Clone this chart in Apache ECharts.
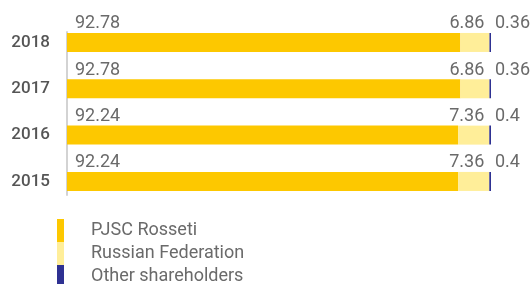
<!DOCTYPE html>
<html><head><meta charset="utf-8">
<script src="https://cdn.jsdelivr.net/npm/echarts@6/dist/echarts.min.js"></script>
<style>html,body{margin:0;padding:0;background:#fff}#c{width:530px;height:284px}</style>
</head><body><div id="c"></div>
<script>
const years = ['2015', '2016', '2017', '2018'];
const rosseti = [92.24, 92.24, 92.78, 92.78];
const federation = [7.36, 7.36, 6.86, 6.86];
const others = [0.4, 0.4, 0.36, 0.36];
const seriesNames = ['PJSC Rosseti', 'Russian Federation', 'Other shareholders'];
const colors = ['#FDC800', '#FFEE99', '#2E3192'];

const font = 'Roboto';
const labelBase = { show: true, color: '#6a6a6a', fontSize: 18, fontFamily: font, verticalAlign: 'middle', formatter: p => String(p.value) };

const chart = echarts.init(document.getElementById('c'));
chart.setOption({
  animation: false,
  grid: [
    { left: 67, right: 39, top: 19.3, bottom: 79.4 },
    { left: 67, right: 39, top: 32, bottom: 89 }
  ],
  legend: {
    orient: 'vertical', left: 57, top: 219, height: 90, itemWidth: 7, itemHeight: 23, itemGap: 0,
    icon: 'rect', selectedMode: false, padding: 0,
    textStyle: { color: '#6a6a6a', fontSize: 18, fontFamily: font, padding: [0, 0, 0, 22] },
    data: seriesNames
  },
  xAxis: [
    { type: 'value', min: 0, max: 100, show: false, gridIndex: 0 },
    { type: 'value', min: 0, max: 100, show: false, gridIndex: 1 }
  ],
  yAxis: [
    { type: 'category', data: years, gridIndex: 0, axisLine: { show: false }, axisTick: { show: false },
      axisLabel: { color: '#555', fontSize: 17, fontWeight: 500, fontFamily: font, margin: 17, padding: [4, 0, 0, 0] } },
    { type: 'category', data: years, gridIndex: 1, offset: 6, axisLine: { show: true, lineStyle: { color: '#d3d3d3', width: 2 } },
      axisTick: { show: false }, axisLabel: { show: false } }
  ],
  series: [
    { name: seriesNames[0], type: 'bar', stack: 's', data: rosseti, barWidth: 19, itemStyle: { color: colors[0] },
      label: Object.assign({}, labelBase, { position: [8, -9], align: 'left' }) },
    { name: seriesNames[1], type: 'bar', stack: 's', data: federation, barWidth: 19, itemStyle: { color: colors[1] },
      label: Object.assign({}, labelBase, { position: ['100%', -9], align: 'right', offset: [-5, 0] }) },
    { name: seriesNames[2], type: 'bar', stack: 's', data: others, barWidth: 19, itemStyle: { color: colors[2] },
      label: Object.assign({}, labelBase, { position: ['100%', -9], align: 'left', offset: [4, 0] }) }
  ]
});
</script></body></html>
